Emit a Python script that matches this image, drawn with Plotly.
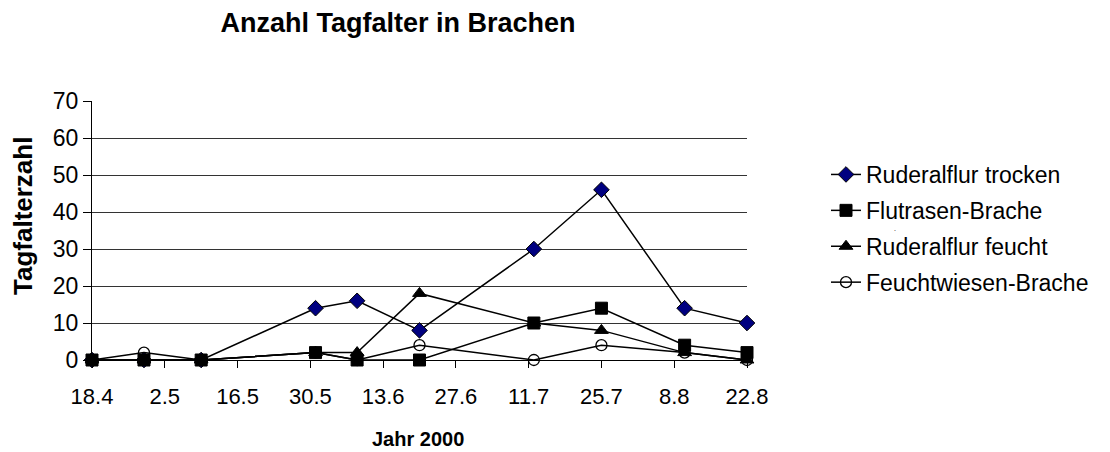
import plotly.graph_objects as go

# Survey dates (2000) and butterfly counts per fallow type
dates = ["2000-04-18", "2000-04-28", "2000-05-09", "2000-05-31", "2000-06-08",
         "2000-06-20", "2000-07-12", "2000-07-25", "2000-08-10", "2000-08-22"]

ruderal_trocken = [0, 0, 0, 14, 16, 8, 30, 46, 14, 10]
flutrasen = [0, 0, 0, 2, 0, 0, 10, 14, 4, 2]
ruderal_feucht = [0, 0, 0, 2, 2, 18, 10, 8, 2, 0]
feuchtwiesen = [0, 2, 0, 2, 0, 4, 0, 4, 2, 0]

series_names = ["Ruderalflur trocken", "Flutrasen-Brache",
                "Ruderalflur feucht", "Feuchtwiesen-Brache"]
y_ticks = [0, 10, 20, 30, 40, 50, 60, 70]
grid_values = [10, 20, 30, 40, 50, 60]

FONT = "Liberation Sans, Arial, sans-serif"

styles = [
    dict(symbol="diamond", size=12, color="#000080", line=dict(color="black", width=1)),
    dict(symbol="square", size=12, color="black", line=dict(color="black", width=1)),
    dict(symbol="triangle-up", size=12, color="black", line=dict(color="black", width=1)),
    dict(symbol="circle-open", size=11, color="black", line=dict(color="black", width=1.3)),
]

fig = go.Figure()

# Horizontal grid lines on an overlaid helper axis (no line at the top value)
fig.add_trace(go.Scatter(x=[dates[0]], y=[0], yaxis="y2", mode="markers",
                         marker=dict(opacity=0), showlegend=False, hoverinfo="skip"))

for i, (name, vals) in enumerate(zip(series_names,
                                     [ruderal_trocken, flutrasen, ruderal_feucht, feuchtwiesen])):
    fig.add_trace(go.Scatter(
        x=dates, y=vals, name=name, mode="lines+markers",
        line=dict(color="black", width=1.5),
        marker=styles[i],
        legendgroup=f"g{i}",
        cliponaxis=False,
    ))

fig.update_layout(
    width=1110, height=452,
    margin=dict(l=92, r=363, t=101, b=92, autoexpand=False),
    paper_bgcolor="white", plot_bgcolor="white",
    font=dict(family=FONT, color="black"),
    title=dict(text="<b>Anzahl Tagfalter in Brachen</b>", x=398 / 1110, xanchor="center",
               y=1 - 23 / 452, yanchor="middle", font=dict(size=27)),
    xaxis=dict(
        type="date",
        range=["2000-04-18", "2000-08-22"],
        tick0="2000-04-18", dtick=14 * 86400000,
        tickformat="%-d.%-m",
        ticks="outside", ticklen=7, tickcolor="black",
        ticklabelstandoff=10,
        showline=True, linecolor="black", linewidth=1,
        showgrid=False, zeroline=False,
        tickfont=dict(size=22),
        automargin=False,
    ),
    yaxis=dict(
        range=[0, 70], tickvals=y_ticks,
        ticks="outside", ticklen=8, tickcolor="black",
        showline=True, linecolor="black", linewidth=1,
        showgrid=False, zeroline=False,
        tickfont=dict(size=23),
        automargin=False,
    ),
    yaxis2=dict(
        overlaying="y", range=[0, 70], tickvals=grid_values,
        showticklabels=False, showgrid=True, gridcolor="#333333", gridwidth=1,
        zeroline=False, showline=False,
    ),
    legend=dict(
        xref="container", yref="container",
        x=826 / 1110, xanchor="left", y=1 - 153 / 452, yanchor="top",
        font=dict(size=23), tracegroupgap=3,
        bgcolor="rgba(0,0,0,0)",
    ),
    showlegend=True,
)

# Axis titles
fig.add_annotation(text="<b>Jahr 2000</b>", x=(418 - 92) / 655, y=(360 - 439) / 259,
                   xref="paper", yref="paper", showarrow=False, font=dict(size=20),
                   xanchor="center", yanchor="middle")
fig.add_annotation(text="<b>Tagfalterzahl</b>", x=(23 - 92) / 655, y=(360 - 216) / 259,
                   xref="paper", yref="paper", showarrow=False, font=dict(size=26),
                   textangle=-90, xanchor="center", yanchor="middle")

fig.add_annotation(text=".", x=(898 - 92) / 655, y=(360 - 234) / 259,
                   xref="paper", yref="paper", showarrow=False, font=dict(size=7),
                   yanchor="bottom")

fig.write_html("out.html")
